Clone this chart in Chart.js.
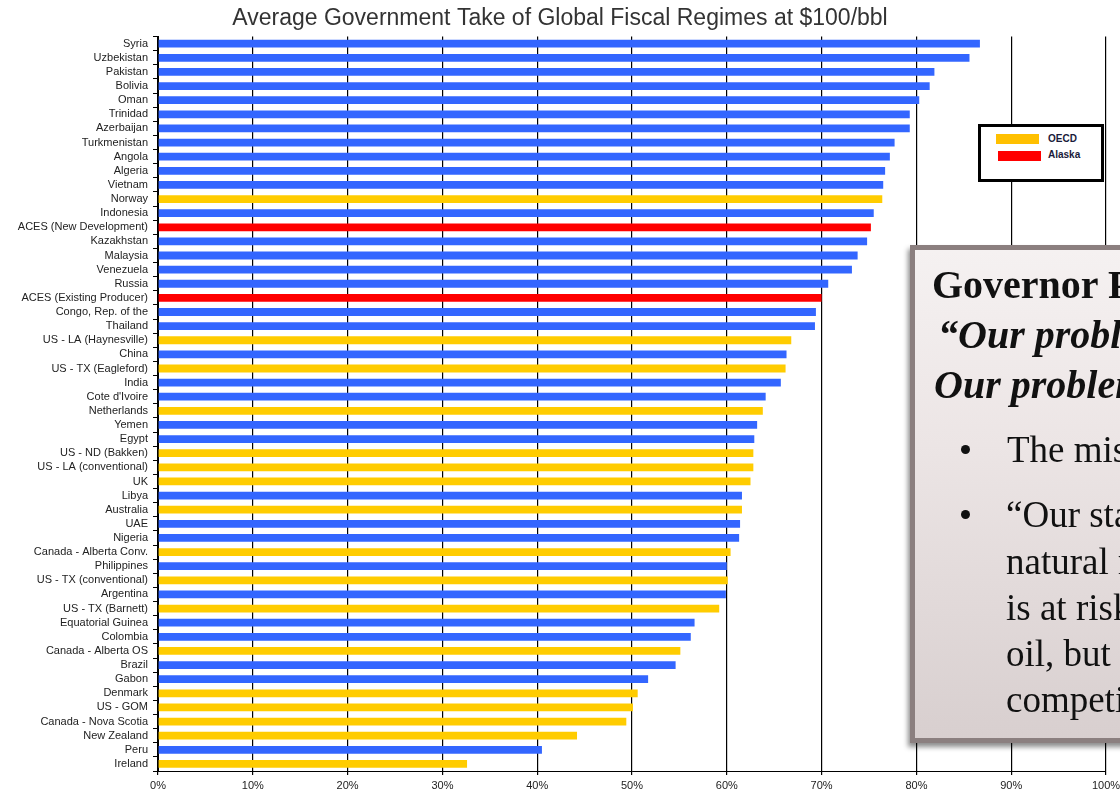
<!DOCTYPE html>
<html>
<head>
<meta charset="utf-8">
<script src="https://cdn.jsdelivr.net/npm/chart.js@4.4.0/dist/chart.umd.min.js"></script>
<style>
  html, body { margin: 0; padding: 0; background: #fff; }
  body { width: 1120px; height: 793px; overflow: hidden; position: relative; }
  #wrap { position: absolute; left: 0; top: 0; width: 1120px; height: 793px; }
  #legend { position: absolute; left: 978px; top: 124px; width: 120px; height: 52px;
    border: 3px solid #000; background: #fff; font-family: "Liberation Sans", Arial, sans-serif;
    font-weight: bold; font-size: 10px; color: #1a1a3a; }
  .sw { position: absolute; width: 43px; height: 10px; }
  .lt { position: absolute; left: 67px; white-space: nowrap; }
  #box { position: absolute; left: 910px; top: 245px; width: 260px; height: 488px;
    border: 5px solid #8b7f7f; border-right: none;
    background: linear-gradient(to bottom, #f5f1f1 0%, #ece5e5 40%, #d8cfcf 100%);
    box-shadow: -2px 4px 5px rgba(0,0,0,0.45);
    font-family: "Liberation Serif", "Times New Roman", serif; color: #111; }
  .t { position: absolute; white-space: nowrap; line-height: 1; }
  .h { font-size: 40px; font-weight: bold; }
  .hi { font-size: 40px; font-weight: bold; font-style: italic; }
  .b { font-size: 37px; }
  .dot { position: absolute; width: 9px; height: 9px; border-radius: 50%; background: #111; }
</style>
</head>
<body>
<div id="wrap"><canvas id="c" width="1120" height="793"></canvas></div>

<div id="legend">
  <div class="sw" style="left:15px; top:7px; background:#ffc000;"></div>
  <div class="lt" style="top:6px;">OECD</div>
  <div class="sw" style="left:17px; top:24px; background:#ff0000;"></div>
  <div class="lt" style="top:22px;">Alaska</div>
</div>

<div id="box">
  <div class="t h" style="left:17px; top:15px;">Governor Parnell:</div>
  <div class="t hi" style="left:23px; top:65px;">“Our problem is not a lack of oil.</div>
  <div class="t hi" style="left:19px; top:115px;">Our problem is a lack of production.”</div>
  <div class="dot" style="left:46px; top:195px;"></div>
  <div class="t b" style="left:92px; top:181px;">The mismatch between our tax system</div>
  <div class="dot" style="left:46px; top:260px;"></div>
  <div class="t b" style="left:91px; top:246px;">“Our state’s economy depends on our</div>
  <div class="t b" style="left:91px; top:293px;">natural resources. Alaska’s future</div>
  <div class="t b" style="left:91px; top:339px;">is at risk not because we lack</div>
  <div class="t b" style="left:91px; top:385px;">oil, but because our taxes are not</div>
  <div class="t b" style="left:91px; top:431px;">competitive.”</div>
</div>

<script>
const categories = ["Syria","Uzbekistan","Pakistan","Bolivia","Oman","Trinidad","Azerbaijan","Turkmenistan","Angola","Algeria","Vietnam","Norway","Indonesia","ACES (New Development)","Kazakhstan","Malaysia","Venezuela","Russia","ACES (Existing Producer)","Congo, Rep. of the","Thailand","US - LA (Haynesville)","China","US - TX (Eagleford)","India","Cote d'Ivoire","Netherlands","Yemen","Egypt","US - ND (Bakken)","US - LA (conventional)","UK","Libya","Australia","UAE","Nigeria","Canada - Alberta Conv.","Philippines","US - TX (conventional)","Argentina","US - TX (Barnett)","Equatorial Guinea","Colombia","Canada - Alberta OS","Brazil","Gabon","Denmark","US - GOM","Canada - Nova Scotia","New Zealand","Peru","Ireland"];

const governmentTake = [86.7,85.6,81.9,81.4,80.3,79.3,79.3,77.7,77.2,76.7,76.5,76.4,75.5,75.2,74.8,73.8,73.2,70.7,70.0,69.4,69.3,66.8,66.3,66.2,65.7,64.1,63.8,63.2,62.9,62.8,62.8,62.5,61.6,61.6,61.4,61.3,60.4,60.0,60.1,59.9,59.2,56.6,56.2,55.1,54.6,51.7,50.6,50.1,49.4,44.2,40.5,32.6];

// group of each regime: "other", "OECD" or "Alaska"
const groups = ["other","other","other","other","other","other","other","other","other","other","other","OECD","other","Alaska","other","other","other","other","Alaska","other","other","OECD","other","OECD","other","other","OECD","other","other","OECD","OECD","OECD","other","OECD","other","other","OECD","other","OECD","other","OECD","other","other","OECD","other","other","OECD","OECD","OECD","OECD","other","OECD"];

const xTicks = [0,10,20,30,40,50,60,70,80,90,100];

const groupColors = { other: "#3366ff", OECD: "#ffcc00", Alaska: "#ff0000" };

new Chart(document.getElementById("c"), {
  type: "bar",
  data: {
    labels: categories,
    datasets: [{
      label: "Government take",
      data: governmentTake,
      backgroundColor: groups.map(g => groupColors[g]),
      borderWidth: 0,
      barPercentage: 0.55,
      categoryPercentage: 1.0
    }]
  },
  options: {
    indexAxis: "y",
    responsive: false,
    animation: false,
    layout: { padding: { left: 0, right: 0, top: 0, bottom: 0 } },
    plugins: {
      legend: { display: false },
      tooltip: { enabled: false },
      title: {
        display: true,
        text: "Average Government Take of Global Fiscal Regimes at $100/bbl",
        color: "#333",
        font: { family: "Liberation Sans", size: 23, weight: "normal" },
        padding: { top: 5, bottom: 4 }
      }
    },
    scales: {
      x: {
        min: 0, max: 100,
        afterBuildTicks: s => { s.ticks = xTicks.map(v => ({ value: v })); },
        afterFit: s => { s.height = 22; s.paddingRight = 14; s.paddingLeft = 0; },
        grid: { color: "#000", lineWidth: 1.2, tickLength: 4, drawTicks: true },
        border: { color: "#000", width: 1 },
        ticks: {
          callback: v => v + "%",
          color: "#222",
          padding: 4,
          font: { family: "Liberation Sans", size: 11 }
        }
      },
      y: {
        afterFit: s => { s.width = 158; },
        grid: { drawOnChartArea: false, drawTicks: true, tickLength: 5, color: "#000", offset: true },
        border: { color: "#000", width: 1 },
        ticks: {
          autoSkip: false,
          color: "#222",
          padding: 5,
          font: { family: "Liberation Sans", size: 11 }
        }
      }
    }
  }
});
</script>
</body>
</html>
